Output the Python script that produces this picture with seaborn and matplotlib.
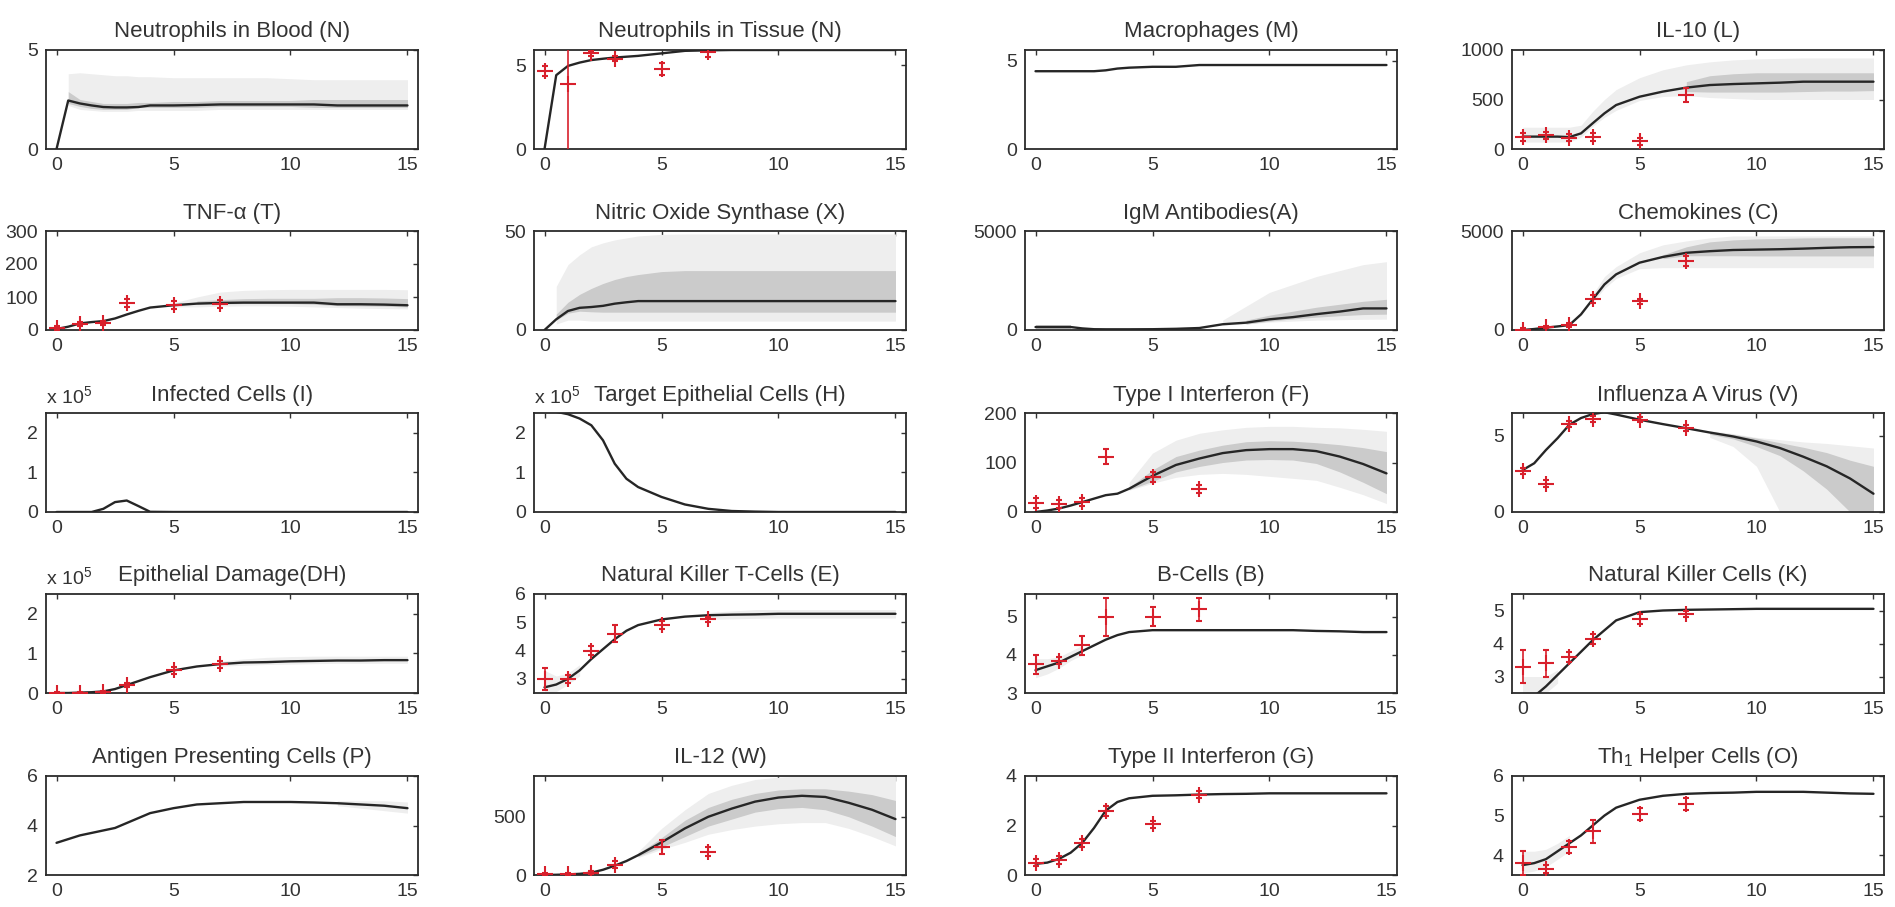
import numpy as np
import matplotlib
matplotlib.use("Agg")
import matplotlib.pyplot as plt
import seaborn as sns
from matplotlib.ticker import FuncFormatter

# common time axes (days)
t_grid = [0, 0.5, 1, 1.5, 2, 2.5, 3, 3.5, 4, 5, 6, 7, 8, 9, 10, 11, 12, 13, 14, 15]
t_data = [0, 1, 2, 3, 5, 7]

# Neutrophils in Blood
blood_mean = [0, 2.45, 2.3, 2.2, 2.12, 2.1, 2.1, 2.12, 2.2, 2.2, 2.22, 2.25, 2.25, 2.25, 2.25, 2.25, 2.2, 2.2, 2.2, 2.2]
blood_dark_lo = [2.3, 2.15, 2.05, 2.0, 2.0, 2.0, 2.1, 2.1, 2.1, 2.1, 2.15, 2.15, 2.15, 2.15, 2.1, 2.1, 2.1, 2.1, 2.1]
blood_dark_hi = [2.9, 2.5, 2.4, 2.3, 2.3, 2.3, 2.35, 2.35, 2.4, 2.4, 2.45, 2.45, 2.45, 2.45, 2.5, 2.5, 2.5, 2.5, 2.5]
blood_light_lo = [2.2, 2.0, 1.95, 1.9, 1.9, 1.9, 1.95, 1.95, 1.95, 1.95, 2.0, 2.0, 2.0, 2.0, 2.0, 2.0, 2.0, 2.0, 2.0]
blood_light_hi = [3.8, 3.85, 3.8, 3.75, 3.7, 3.7, 3.65, 3.65, 3.6, 3.6, 3.6, 3.6, 3.6, 3.55, 3.5, 3.5, 3.5, 3.5, 3.5]

# Neutrophils in Tissue
tissue_mean = [0, 4.4, 4.95, 5.15, 5.3, 5.38, 5.45, 5.5, 5.55, 5.7, 5.85, 5.88, 5.9, 5.9, 5.9, 5.9, 5.9, 5.9, 5.9, 5.9]
tissue_y = [4.65, 3.85, 5.7, 5.38, 4.75, 5.8]
tissue_err = [0.3, 4.5, 0.15, 0.15, 0.35, 0.3]

# Macrophages
macro_mean = [4.4, 4.4, 4.4, 4.4, 4.4, 4.4, 4.45, 4.55, 4.6, 4.65, 4.65, 4.75, 4.75, 4.75, 4.75, 4.75, 4.75, 4.75, 4.75, 4.75]

# IL-10
il10_mean = [125, 125, 125, 125, 120, 158, 260, 360, 444, 528, 580, 620, 646, 656, 663, 670, 680, 680, 680, 680]
il10_dark_lo = [580, 575, 575, 575, 575, 580, 585, 585, 590]
il10_dark_hi = [680, 740, 760, 770, 770, 770, 770, 770, 770]
il10_light_lo = [70, 70, 70, 70, 70, 120, 230, 320, 390, 490, 530, 540, 520, 510, 500, 500, 500, 500, 500, 500]
il10_light_hi = [220, 220, 220, 220, 220, 240, 380, 500, 600, 720, 800, 850, 880, 900, 910, 915, 920, 920, 920, 920]
il10_y = [125, 140, 115, 125, 80, 545]
il10_err = [40, 35, 35, 40, 35, 70]

# TNF-alpha
tnf_mean = [3, 10, 20, 24, 27, 35, 47, 58, 68, 75, 80, 82, 83, 83, 83, 83, 78, 78, 77, 75]
tnf_dark_lo = [78, 79, 80, 80, 80, 78, 74, 73, 72, 70]
tnf_dark_hi = [88, 92, 95, 96, 96, 96, 98, 98, 97, 95]
tnf_light_lo = [70, 70, 72, 73, 73, 72, 70, 68, 66, 65, 64]
tnf_light_hi = [82, 100, 115, 120, 122, 123, 123, 123, 123, 123, 122]
tnf_y = [5, 19, 22, 82, 75, 78]
tnf_err = [6, 6, 6, 12, 12, 12]

# Nitric Oxide Synthase
nos_mean = [0, 5.4, 9.6, 11.2, 11.6, 12.2, 13.3, 14.0, 14.6, 14.6, 14.6, 14.6, 14.6, 14.6, 14.6, 14.6, 14.6, 14.6, 14.6, 14.6]
nos_dark_lo = [5, 8.5, 9.5, 9.2, 9, 9, 9, 9, 9, 9, 9, 9, 9, 9, 9, 9, 9, 9, 9]
nos_dark_hi = [8, 14, 18, 21, 23.5, 25.5, 27, 28, 29.5, 30, 30, 30, 30, 30, 30, 30, 30, 30, 30]
nos_light_lo = [3, 5, 5, 4.5, 4.5, 4.5, 4.5, 4.5, 4.5, 4.5, 4.5, 4.5, 4.5, 4.5, 4.5, 4.5, 4.5, 4.5, 4.5]
nos_light_hi = [22, 33, 38, 42, 44, 45.5, 46.5, 47.5, 48.3, 48.5, 48.5, 48.5, 48.5, 48.5, 48.5, 48.5, 48.5, 48.5, 48.5]

# IgM Antibodies
igm_mean = [150, 150, 150, 150, 80, 40, 35, 35, 35, 40, 60, 100, 290, 370, 540, 650, 800, 930, 1090, 1090]
igm_dark0_lo = [50, 50, 50, 50]
igm_dark0_hi = [250, 250, 250, 250]
igm_dark_lo = [300, 450, 560, 650, 720, 780, 800]
igm_dark_hi = [500, 750, 950, 1150, 1300, 1450, 1550]
igm_light_lo = [250, 300, 400, 450, 500, 520, 540, 550]
igm_light_hi = [500, 1200, 1900, 2300, 2700, 3000, 3300, 3450]

# Chemokines
chem_mean = [0, 50, 120, 180, 250, 790, 1550, 2300, 2810, 3400, 3690, 3900, 3980, 4040, 4060, 4080, 4110, 4150, 4180, 4190]
chem_dark_lo = [3600, 3750, 3750, 3750, 3740, 3740, 3740, 3740, 3740, 3740]
chem_dark_hi = [3800, 4200, 4450, 4550, 4600, 4620, 4650, 4660, 4660, 4660]
chem_light_lo = [1400, 2100, 2600, 3100, 3150, 3150, 3150, 3150, 3150, 3150, 3150, 3150, 3150, 3150]
chem_light_hi = [1800, 2700, 3200, 3900, 4300, 4500, 4650, 4750, 4750, 4750, 4750, 4750, 4750, 4750]
chem_y = [20, 150, 250, 1550, 1450, 3500]
chem_err = [60, 60, 80, 200, 120, 250]

# Infected Cells
infected_mean = [0, 0, 0, 0, 8000, 25000, 29000, 15000, 500, 0, 0, 0, 0, 0, 0, 0, 0, 0, 0, 0]

# Target Epithelial Cells
target_mean = [256000, 253000, 247000, 236000, 219000, 181000, 122000, 84000, 63000, 38000, 19000, 8000, 2500, 1000, 0, 0, 0, 0, 0, 0]

# Type I Interferon
ifn1_mean = [0, 3, 7, 13, 20, 27, 34, 37, 47, 73, 95, 108, 119, 125, 127, 127, 123, 112, 97, 78]
ifn1_dark_lo = [45, 62, 81, 92, 100, 105, 106, 105, 98, 81, 60, 37]
ifn1_dark_hi = [50, 85, 112, 125, 135, 142, 144, 143, 140, 136, 130, 122]
ifn1_light_lo = [44, 58, 70, 76, 78, 76, 72, 68, 64, 50, 35, 17]
ifn1_light_hi = [60, 119, 145, 159, 166, 171, 173, 173, 171, 170, 167, 163]
ifn1_y = [18, 16, 20, 112, 70, 46]
ifn1_err = [10, 8, 8, 16, 10, 8]

# Influenza A Virus
virus_mean = [2.75, 3.2, 4.07, 4.85, 5.73, 6.17, 6.43, 6.55, 6.4, 6.06, 5.77, 5.5, 5.22, 4.96, 4.63, 4.2, 3.63, 3.0, 2.2, 1.2]
virus_dark_lo = [5.1, 4.8, 4.3, 3.7, 2.7, 1.5, 0, 0]
virus_dark_hi = [5.3, 5.1, 4.85, 4.55, 4.25, 3.9, 3.4, 3.0]
virus_light_lo = [4.9, 4.3, 3.0, 0, 0, 0, 0, 0]
virus_light_hi = [5.35, 5.15, 4.9, 4.75, 4.6, 4.5, 4.35, 4.2]
virus_y = [2.7, 1.87, 5.8, 6.1, 6.06, 5.5]
virus_err = [0.2, 0.2, 0.2, 0.2, 0.15, 0.2]

# Epithelial Damage
damage_mean = [0, 0, 1000, 2000, 4000, 10000, 20000, 30000, 40000, 57000, 67000, 73000, 77000, 78000, 80000, 81000, 82000, 82000, 83000, 83000]
damage_light_lo = [68000, 70000, 72000, 73000, 74000, 75000, 75000, 75000, 75000]
damage_light_hi = [80000, 86000, 90000, 92000, 93000, 93000, 93000, 93000, 93000]
damage_y = [0, 1000, 2000, 20000, 57000, 72000]
damage_err = [2000, 2000, 3000, 6000, 8000, 8000]

# Natural Killer T-Cells
nkt_mean = [2.7, 2.8, 3.0, 3.3, 3.7, 4.05, 4.4, 4.7, 4.9, 5.1, 5.2, 5.25, 5.27, 5.28, 5.3, 5.3, 5.3, 5.3, 5.3, 5.3]
nkt_light0_lo = [2.5, 2.55, 2.8, 3.1]
nkt_light0_hi = [3.3, 3.1, 3.2, 3.5]
nkt_light_lo = [5.1, 5.12, 5.14, 5.15, 5.15, 5.15, 5.15, 5.15, 5.15]
nkt_light_hi = [5.35, 5.4, 5.45, 5.45, 5.45, 5.45, 5.45, 5.45, 5.45]
nkt_y = [3.0, 3.0, 4.0, 4.6, 4.9, 5.1]
nkt_err = [0.4, 0.15, 0.15, 0.3, 0.15, 0.1]

# B-Cells
bcell_mean = [3.6, 3.7, 3.8, 3.95, 4.1, 4.25, 4.4, 4.52, 4.6, 4.65, 4.65, 4.65, 4.65, 4.65, 4.65, 4.65, 4.63, 4.62, 4.6, 4.6]
bcell_light_lo = [3.4, 3.5, 3.65, 3.85, 4.0]
bcell_light_hi = [3.9, 3.9, 3.95, 4.1, 4.25]
bcell_y = [3.75, 3.85, 4.25, 5.0, 5.0, 5.2]
bcell_err = [0.25, 0.1, 0.25, 0.5, 0.25, 0.3]

# Natural Killer Cells
nk_mean = [2.2, 2.4, 2.7, 3.05, 3.4, 3.75, 4.1, 4.4, 4.7, 4.95, 5.0, 5.02, 5.03, 5.04, 5.05, 5.05, 5.05, 5.05, 5.05, 5.05]
nk_light_lo = [2.5, 2.5, 2.5, 2.8]
nk_light_hi = [3.0, 3.0, 3.0, 3.2]
nk_y = [3.3, 3.4, 3.6, 4.15, 4.75, 4.9]
nk_err = [0.5, 0.4, 0.15, 0.15, 0.15, 0.1]

# Antigen Presenting Cells
apc_mean = [3.3, 3.45, 3.6, 3.7, 3.8, 3.9, 4.1, 4.3, 4.5, 4.7, 4.85, 4.9, 4.95, 4.95, 4.95, 4.93, 4.9, 4.85, 4.8, 4.7]
apc_light_lo = [4.8, 4.7, 4.6, 4.5]
apc_light_hi = [5.0, 5.0, 5.0, 4.95]

# IL-12
il12_mean = [0, 2, 5, 10, 20, 45, 80, 120, 170, 280, 400, 500, 570, 630, 665, 680, 670, 620, 560, 480]
il12_dark_lo = [160, 240, 330, 420, 480, 540, 570, 580, 560, 500, 420, 330]
il12_dark_hi = [185, 320, 470, 580, 650, 700, 730, 740, 740, 720, 690, 640]
il12_light_lo = [150, 220, 280, 350, 390, 420, 440, 450, 450, 400, 330, 250]
il12_light_hi = [200, 400, 560, 700, 770, 820, 840, 850, 850, 850, 850, 850]
il12_y = [5, 10, 20, 90, 240, 200]
il12_err = [10, 10, 15, 30, 60, 40]

# Type II Interferon
ifn2_mean = [0.45, 0.5, 0.65, 0.9, 1.3, 1.9, 2.6, 2.95, 3.1, 3.2, 3.22, 3.25, 3.27, 3.28, 3.3, 3.3, 3.3, 3.3, 3.3, 3.3]
ifn2_y = [0.5, 0.6, 1.3, 2.6, 2.05, 3.25]
ifn2_err = [0.15, 0.15, 0.15, 0.2, 0.15, 0.15]

# Th1 Helper Cells
th1_mean = [3.75, 3.8, 3.9, 4.1, 4.3, 4.5, 4.75, 5.0, 5.2, 5.4, 5.5, 5.55, 5.57, 5.58, 5.6, 5.6, 5.6, 5.58, 5.56, 5.55]
th1_light_lo = [3.55, 3.6, 3.7, 3.9, 4.1]
th1_light_hi = [4.1, 4.1, 4.15, 4.3, 4.5]
th1_y = [3.8, 3.65, 4.2, 4.6, 5.05, 5.3]
th1_err = [0.3, 0.1, 0.15, 0.3, 0.15, 0.15]

LIGHT = "#eeeeee"
DARK = "#cbcbcb"
LINE = "#262626"
RED = "#d8202c"
TXT = "#333333"


def seg(t0, vals):
    i = t_grid.index(t0)
    return t_grid[i:i + len(vals)]


panels = [
    dict(title="Neutrophils in Blood (N)", mean=blood_mean, ylim=(0, 5), yticks=[0, 5],
         bands=[(0.5, blood_light_lo, blood_light_hi, LIGHT), (0.5, blood_dark_lo, blood_dark_hi, DARK)]),
    dict(title="Neutrophils in Tissue (N)", mean=tissue_mean, ylim=(0, 5.9), yticks=[0, 5],
         data=(tissue_y, tissue_err)),
    dict(title="Macrophages (M)", mean=macro_mean, ylim=(0, 5.6), yticks=[0, 5]),
    dict(title="IL-10 (L)", mean=il10_mean, ylim=(0, 1000), yticks=[0, 500, 1000],
         bands=[(0, il10_light_lo, il10_light_hi, LIGHT), (7, il10_dark_lo, il10_dark_hi, DARK)],
         data=(il10_y, il10_err)),
    dict(title="TNF-α (T)", mean=tnf_mean, ylim=(0, 300), yticks=[0, 100, 200, 300],
         bands=[(5, tnf_light_lo, tnf_light_hi, LIGHT), (6, tnf_dark_lo, tnf_dark_hi, DARK)],
         data=(tnf_y, tnf_err)),
    dict(title="Nitric Oxide Synthase (X)", mean=nos_mean, ylim=(0, 50), yticks=[0, 50],
         bands=[(0.5, nos_light_lo, nos_light_hi, LIGHT), (0.5, nos_dark_lo, nos_dark_hi, DARK)]),
    dict(title="IgM Antibodies(A)", mean=igm_mean, ylim=(0, 5000), yticks=[0, 5000],
         bands=[(8, igm_light_lo, igm_light_hi, LIGHT), (9, igm_dark_lo, igm_dark_hi, DARK),
                (0, igm_dark0_lo, igm_dark0_hi, DARK)]),
    dict(title="Chemokines (C)", mean=chem_mean, ylim=(0, 5000), yticks=[0, 5000],
         bands=[(3, chem_light_lo, chem_light_hi, LIGHT), (6, chem_dark_lo, chem_dark_hi, DARK)],
         data=(chem_y, chem_err)),
    dict(title="Infected Cells (I)", mean=infected_mean, ylim=(0, 2.5e5), yticks=[0, 1e5, 2e5], sci=True),
    dict(title="Target Epithelial Cells (H)", mean=target_mean, ylim=(0, 2.5e5), yticks=[0, 1e5, 2e5], sci=True),
    dict(title="Type I Interferon (F)", mean=ifn1_mean, ylim=(0, 200), yticks=[0, 100, 200],
         bands=[(4, ifn1_light_lo, ifn1_light_hi, LIGHT), (4, ifn1_dark_lo, ifn1_dark_hi, DARK)],
         data=(ifn1_y, ifn1_err)),
    dict(title="Influenza A Virus (V)", mean=virus_mean, ylim=(0, 6.5), yticks=[0, 5],
         bands=[(8, virus_light_lo, virus_light_hi, LIGHT), (8, virus_dark_lo, virus_dark_hi, DARK)],
         data=(virus_y, virus_err)),
    dict(title="Epithelial Damage(DH)", mean=damage_mean, ylim=(0, 2.5e5), yticks=[0, 1e5, 2e5], sci=True,
         bands=[(7, damage_light_lo, damage_light_hi, LIGHT)], data=(damage_y, damage_err)),
    dict(title="Natural Killer T-Cells (E)", mean=nkt_mean, ylim=(2.5, 6), yticks=[3, 4, 5, 6],
         bands=[(0, nkt_light0_lo, nkt_light0_hi, LIGHT), (7, nkt_light_lo, nkt_light_hi, LIGHT)],
         data=(nkt_y, nkt_err)),
    dict(title="B-Cells (B)", mean=bcell_mean, ylim=(3, 5.6), yticks=[3, 4, 5],
         bands=[(0, bcell_light_lo, bcell_light_hi, LIGHT)], data=(bcell_y, bcell_err)),
    dict(title="Natural Killer Cells (K)", mean=nk_mean, ylim=(2.5, 5.5), yticks=[3, 4, 5],
         bands=[(0, nk_light_lo, nk_light_hi, LIGHT)], data=(nk_y, nk_err)),
    dict(title="Antigen Presenting Cells (P)", mean=apc_mean, ylim=(2, 6), yticks=[2, 4, 6],
         bands=[(12, apc_light_lo, apc_light_hi, LIGHT)]),
    dict(title="IL-12 (W)", mean=il12_mean, ylim=(0, 850), yticks=[0, 500],
         bands=[(4, il12_light_lo, il12_light_hi, LIGHT), (4, il12_dark_lo, il12_dark_hi, DARK)],
         data=(il12_y, il12_err)),
    dict(title="Type II Interferon (G)", mean=ifn2_mean, ylim=(0, 4), yticks=[0, 2, 4],
         data=(ifn2_y, ifn2_err)),
    dict(title="Th$_1$ Helper Cells (O)", mean=th1_mean, ylim=(3.5, 6), yticks=[4, 5, 6],
         bands=[(0, th1_light_lo, th1_light_hi, LIGHT)], data=(th1_y, th1_err)),
]

sns.set_style("white")
plt.rcParams["font.family"] = ["Liberation Sans", "DejaVu Sans"]
plt.rcParams["mathtext.fontset"] = "custom"
plt.rcParams["mathtext.rm"] = "Liberation Sans"
plt.rcParams["mathtext.default"] = "regular"

W, H = 1895, 907
fig = plt.figure(figsize=(W / 100, H / 100), dpi=100)
col_x = [46, 534, 1025, 1512]
row_top = [50, 231, 413, 594, 776]
ax_w, ax_h = 372, 99

sci_fmt = FuncFormatter(lambda v, pos: f"{v / 1e5:g}")

for i, p in enumerate(panels):
    r, c = divmod(i, 4)
    ax = fig.add_axes([col_x[c] / W, 1 - (row_top[r] + ax_h) / H, ax_w / W, ax_h / H])

    for t0, lo, hi, col in p.get("bands", []):
        ax.fill_between(seg(t0, lo), lo, hi, color=col, linewidth=0, zorder=1)

    sns.lineplot(x=t_grid, y=p["mean"], ax=ax, color=LINE, linewidth=1.7, zorder=3)

    if "data" in p:
        y, err = p["data"]
        ax.errorbar(t_data, y, yerr=err, fmt="+", color=RED, ecolor=RED, elinewidth=1.2,
                    markersize=12, markeredgewidth=1.5, capsize=2.5, capthick=1.2, zorder=4)

    ax.set_xlim(-0.45, 15.45)
    ax.set_ylim(*p["ylim"])
    ax.set_xticks([0, 5, 10, 15])
    ax.set_yticks(p["yticks"])
    if p.get("sci"):
        ax.yaxis.set_major_formatter(sci_fmt)
        ax.text(0.0, 1.06, "x 10$^5$", transform=ax.transAxes, ha="left", va="bottom",
                fontsize=14, color=TXT)
    else:
        ax.yaxis.set_major_formatter(FuncFormatter(lambda v, pos: f"{v:g}"))

    ax.tick_params(direction="in", top=True, right=True, length=3.5, width=1,
                   labelsize=14, colors=TXT, pad=6)
    for s in ax.spines.values():
        s.set_color("#2b2b2b")
        s.set_linewidth(1.3)
    ax.set_title(p["title"], fontsize=16, pad=9, color=TXT)
    ax.set_xlabel("")
    ax.set_ylabel("")

fig.savefig("out.png", dpi=100, facecolor="white")
